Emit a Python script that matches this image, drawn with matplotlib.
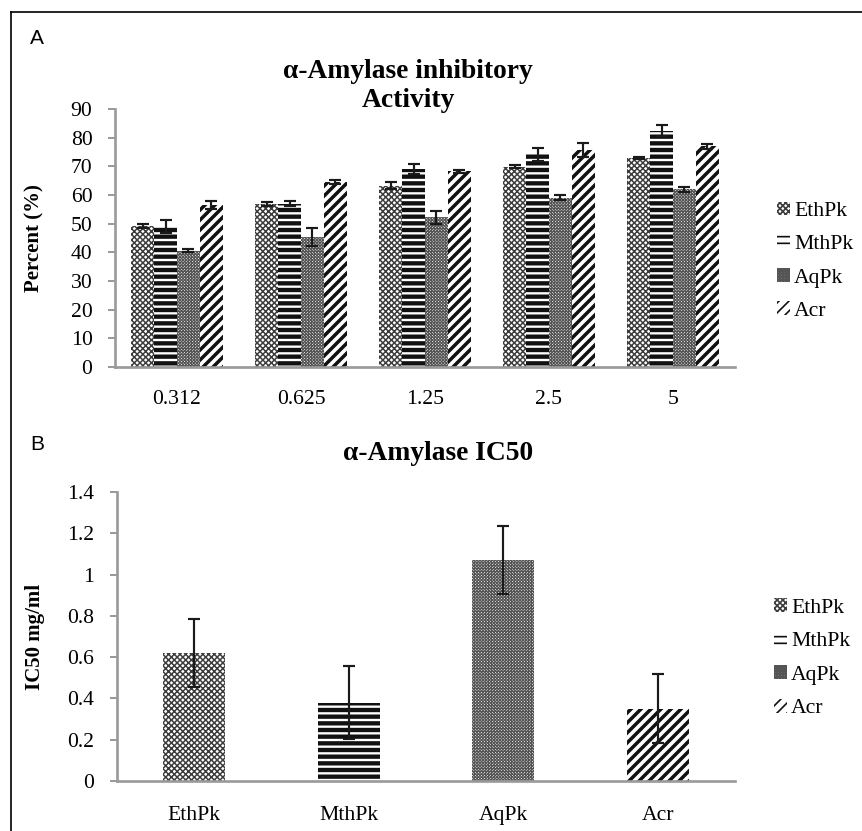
import matplotlib
matplotlib.use("Agg")
import matplotlib.pyplot as plt
import numpy as np
from matplotlib.lines import Line2D

# ---------------- data ----------------
concentrations = ["0.312", "0.625", "1.25", "2.5", "5"]
series = ["EthPk", "MthPk", "AqPk", "Acr"]

eth_vals = [49.2, 56.9, 63.3, 69.8, 72.9]
eth_err = [0.8, 0.8, 1.3, 0.5, 0.3]
mth_vals = [49.0, 56.9, 69.2, 74.2, 82.5]
mth_err = [2.2, 0.9, 1.7, 2.3, 1.8]
aq_vals = [40.6, 45.4, 52.2, 59.1, 62.0]
aq_err = [0.6, 3.2, 2.2, 1.0, 0.8]
acr_vals = [56.5, 64.5, 68.2, 75.6, 77.0]
acr_err = [1.3, 0.8, 0.5, 2.5, 0.9]

ic50_vals = [0.62, 0.38, 1.07, 0.35]
ic50_err = [0.165, 0.175, 0.166, 0.166]

a_yticks = [0, 10, 20, 30, 40, 50, 60, 70, 80, 90]
b_yticks = [0, 0.2, 0.4, 0.6, 0.8, 1.0, 1.2, 1.4]
b_yticklabels = ["0", "0.2", "0.4", "0.6", "0.8", "1", "1.2", "1.4"]

# ---------------- styles ----------------
styles = {
    "EthPk": dict(hatch="xxxxxxx", ec="#3c3c3c", hlw=0.9),
    "MthPk": dict(hatch="---", ec="#111111", hlw=2.6),
    "AqPk": dict(hatch="xxxxxxxxxxxxx", ec="#555555", hlw=0.7),
    "Acr": dict(hatch="////", ec="#111111", hlw=2.1),
}

DPI = 120
W, H = 862, 831
plt.rcParams["font.family"] = ["Liberation Serif", "DejaVu Serif"]
plt.rcParams["hatch.linewidth"] = 1.0

fig = plt.figure(figsize=(W / DPI, H / DPI), dpi=DPI)


def fx(px):
    return px / W


def fy(py):
    return 1 - py / H


def style_bar(rects, name):
    st = styles[name]
    for r in rects:
        r.set_hatch(st["hatch"])
        r.set_edgecolor(st["ec"])
        r.set_facecolor("white")
        r.set_linewidth(0)
        if hasattr(r, "set_hatch_linewidth"):
            r.set_hatch_linewidth(st["hlw"])


def style_axes(ax):
    for s in ["top", "right"]:
        ax.spines[s].set_visible(False)
    for s in ["left", "bottom"]:
        ax.spines[s].set_color("#9a9a9a")
        ax.spines[s].set_linewidth(1.6)
    ax.tick_params(axis="y", direction="out", length=4.5, width=1.2,
                   color="#9a9a9a", labelsize=13, pad=9)
    ax.tick_params(axis="x", length=0, labelsize=13, pad=14)


# ---------------- panel A ----------------
axA = fig.add_axes([fx(115), fy(367), fx(735) - fx(115), fy(109) - fy(367)])
x = np.arange(len(concentrations))
bw = 0.185
vals = [eth_vals, mth_vals, aq_vals, acr_vals]
errs = [eth_err, mth_err, aq_err, acr_err]
for i, name in enumerate(series):
    pos = x + (i - 1.5) * bw
    bars = axA.bar(pos, vals[i], bw, label=name, yerr=errs[i], capsize=3.6,
                   error_kw=dict(ecolor="#1a1a1a", elinewidth=1.3, capthick=1.3))
    style_bar(bars.patches, name)
axA.set_xlim(-0.5, len(concentrations) - 0.5)
axA.set_ylim(0, 90)
axA.set_yticks(a_yticks)
axA.set_xticks(x)
axA.set_xticklabels(concentrations)
style_axes(axA)
axA.set_ylabel("Percent (%)", fontsize=12.5, fontweight="bold")
axA.yaxis.set_label_coords(-0.113, 0.5)
axA.legend(loc="center left", bbox_to_anchor=(1.05, 0.41), frameon=False,
           fontsize=13, handlelength=0.6, handleheight=0.6,
           handletextpad=0.2, labelspacing=0.63, borderpad=0)

# ---------------- panel B ----------------
axB = fig.add_axes([fx(117), fy(781), fx(735) - fx(117), fy(492) - fy(781)])
xb = np.arange(len(series))
for i, name in enumerate(series):
    bars = axB.bar([xb[i]], [ic50_vals[i]], 0.4, label=name, yerr=[ic50_err[i]],
                   capsize=3.4,
                   error_kw=dict(ecolor="#1a1a1a", elinewidth=1.3, capthick=1.3))
    style_bar(bars.patches, name)
axB.set_xlim(-0.5, len(series) - 0.5)
axB.set_ylim(0, 1.4)
axB.set_yticks(b_yticks)
axB.set_yticklabels(b_yticklabels)
axB.set_xticks(xb)
axB.set_xticklabels(series)
style_axes(axB)
axB.tick_params(axis="x", pad=15)
axB.set_ylabel("IC50 mg/ml", fontsize=12.5, fontweight="bold")
axB.yaxis.set_label_coords(-0.117, 0.5)
axB.legend(loc="center left", bbox_to_anchor=(1.045, 0.425), frameon=False,
           fontsize=13, handlelength=0.6, handleheight=0.6,
           handletextpad=0.2, labelspacing=0.65, borderpad=0)

# ---------------- titles / labels ----------------
fig.text(fx(408), fy(86), "α-Amylase inhibitory\nActivity", ha="center", va="center",
         fontsize=16.5, fontweight="bold", linespacing=1.18)
fig.text(fx(438), fy(453), "α-Amylase IC50", ha="center", va="center",
         fontsize=16.5, fontweight="bold")
fig.text(fx(37), fy(38), "A", ha="center", va="center", fontsize=12.5,
         family=["Liberation Sans", "DejaVu Sans"])
fig.text(fx(37), fy(445), "B", ha="center", va="center", fontsize=12.5,
         family=["Liberation Sans", "DejaVu Sans"])

# frame around the figure
fig.add_artist(Line2D([fx(11), fx(11)], [fy(12), 0], transform=fig.transFigure,
                      color="black", lw=1.0))
fig.add_artist(Line2D([fx(11), 1], [fy(12), fy(12)], transform=fig.transFigure,
                      color="black", lw=1.0))

fig.savefig("out.png", dpi=DPI)
